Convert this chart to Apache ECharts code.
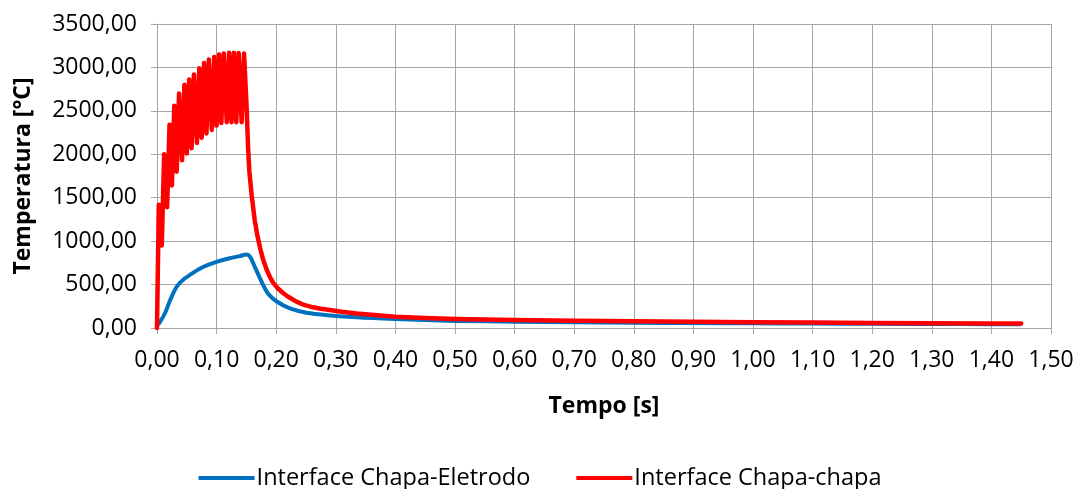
<!DOCTYPE html>
<html>
<head>
<meta charset="utf-8">
<script src="https://cdn.jsdelivr.net/npm/echarts@6/dist/echarts.min.js"></script>
<style>
  html, body { margin: 0; padding: 0; background: #ffffff; }
  #chart { width: 1080px; height: 489px; }
</style>
</head>
<body>
<div id="chart"></div>
<script>
// Temperature histories (°C) against time (s) at the two welding interfaces.

const seriesNames = ['Interface Chapa-Eletrodo', 'Interface Chapa-chapa'];

// Sheet / electrode interface
const timeEletrodo = [0, 0.004, 0.0134, 0.022, 0.033, 0.044, 0.061, 0.078, 0.100, 0.122,
  0.139, 0.150, 0.156, 0.164, 0.173, 0.180, 0.187, 0.201, 0.223, 0.251, 0.290, 0.335,
  0.40, 0.50, 0.60, 0.70, 0.80, 0.90, 1.00, 1.10, 1.20, 1.30, 1.40, 1.45];
const tempEletrodo = [30, 60, 170, 320, 475, 555, 637, 705, 762, 803,
  828, 845, 822, 706, 570, 470, 390, 305, 225, 175, 145, 123,
  104, 82, 73, 66, 61, 57, 54, 51, 48, 46, 44, 43];

// Sheet / sheet interface (oscillating during the current pulse, then cooling)
const timeChapa = [0,
  0.003, 0.008, 0.012, 0.017, 0.021, 0.025, 0.029, 0.033, 0.037, 0.042,
  0.046, 0.050, 0.054, 0.058, 0.062, 0.067, 0.071, 0.075, 0.079, 0.083,
  0.087, 0.092, 0.096, 0.100, 0.104, 0.108, 0.112, 0.117, 0.121, 0.125,
  0.129, 0.133, 0.137, 0.142, 0.146,
  0.150, 0.153, 0.155, 0.159, 0.164, 0.168, 0.173, 0.178, 0.184, 0.190, 0.195, 0.203,
  0.212, 0.220, 0.234, 0.245, 0.262, 0.275, 0.290, 0.310, 0.335, 0.360,
  0.40, 0.45, 0.50, 0.60, 0.70, 0.80, 0.90, 1.00, 1.10, 1.20, 1.30, 1.40, 1.45];
const tempChapa = [0,
  1420, 950, 2000, 1390, 2340, 1640, 2560, 1800, 2700, 1930,
  2800, 2010, 2860, 2070, 2920, 2130, 2990, 2190, 3050, 2240,
  3090, 2280, 3120, 2330, 3150, 2360, 3160, 2370, 3170, 2370,
  3170, 2370, 3165, 2370, 3160,
  2600, 2050, 1800, 1520, 1240, 1080, 920, 790, 670, 580, 520, 455,
  400, 360, 303, 270, 238, 222, 208, 188, 168, 153,
  130, 115, 105, 92, 84, 77, 71, 66, 62, 59, 56, 53, 52];

// Axis ranges and tick steps
const xMin = 0, xMax = 1.5, xStep = 0.1;
const yMin = 0, yMax = 3500, yStep = 500;

const comma = (v, d) => v.toFixed(d).replace('.', ',');
const pairs = (ts, vs) => ts.map((t, i) => [t, vs[i]]);

const fontFamily = '"Open Sans", Lato, sans-serif';
const fontSize = 23;
const gridColor = '#a6a6a6';

const chart = echarts.init(document.getElementById('chart'), null, { renderer: 'canvas' });
chart.setOption({
  animation: false,
  backgroundColor: '#ffffff',
  textStyle: { fontFamily: fontFamily, color: '#000' },
  grid: { left: 157, right: 29, top: 24, bottom: 161, containLabel: false },
  legend: {
    bottom: -6,
    left: 'center',
    itemWidth: 56,
    itemHeight: 4,
    itemGap: 46,
    icon: 'rect',
    textStyle: { fontFamily: fontFamily, fontSize: 23.5, color: '#000', padding: [0, 0, 0, -3] },
    data: seriesNames
  },
  xAxis: {
    type: 'value',
    min: xMin, max: xMax, interval: xStep,
    name: 'Tempo [s]',
    nameLocation: 'middle',
    nameGap: 67,
    nameTextStyle: { fontFamily: fontFamily, fontSize: fontSize, fontWeight: 'bold', color: '#000' },
    axisLine: { show: true, lineStyle: { color: gridColor, width: 1 } },
    axisTick: { show: true, length: 6, lineStyle: { color: gridColor } },
    axisLabel: { fontSize: fontSize, color: '#000', margin: 21, formatter: v => comma(v, 2) },
    splitLine: { show: true, lineStyle: { color: gridColor, width: 1 } }
  },
  yAxis: {
    type: 'value',
    min: yMin, max: yMax, interval: yStep,
    name: 'Temperatura [°C]',
    nameLocation: 'middle',
    nameGap: 122,
    nameRotate: 90,
    nameTextStyle: { fontFamily: fontFamily, fontSize: fontSize, fontWeight: 'bold', color: '#000' },
    axisLine: { show: true, lineStyle: { color: gridColor, width: 1 } },
    axisTick: { show: true, length: 6, lineStyle: { color: gridColor } },
    axisLabel: { fontSize: fontSize, color: '#000', margin: 20, formatter: v => comma(v, 2) },
    splitLine: { show: true, lineStyle: { color: gridColor, width: 1 } }
  },
  series: [
    {
      name: seriesNames[0],
      type: 'line',
      data: pairs(timeEletrodo, tempEletrodo),
      showSymbol: false,
      smooth: 0.3,
      lineStyle: { color: '#0070c0', width: 4 },
      itemStyle: { color: '#0070c0' },
      z: 2
    },
    {
      name: seriesNames[1],
      type: 'line',
      data: pairs(timeChapa, tempChapa),
      showSymbol: false,
      lineStyle: { color: '#ff0000', width: 4.5, join: 'round', cap: 'round' },
      itemStyle: { color: '#ff0000' },
      z: 3
    }
  ]
});
</script>
</body>
</html>
